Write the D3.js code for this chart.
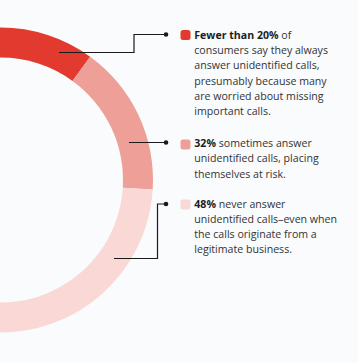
<!DOCTYPE html>
<html>
<head>
<meta charset="utf-8">
<script src="https://cdn.jsdelivr.net/npm/d3@7"></script>
<style>
html,body{margin:0;padding:0;background:#f9fbfd;}
svg{display:block;}
</style>
</head>
<body>
<svg id="chart" width="358" height="363"></svg>
<script>
// Arc shares as drawn in the picture (percent of the full ring)
const segments = ["always", "sometimes", "never"];
const arcShares = [20, 16, 64];
const colors = ["#e23a2e", "#ee9f98", "#f9d8d6"];

// Legend texts: bold lead + rest, then continuation lines
const boldLeads = ["Fewer than 20%", "32%", "48%"];
const firstRests = [" of", " sometimes answer", " never answer"];
const moreLines = [
  ["consumers say they always", "answer unidentified calls,", "presumably because many", "are worried about missing", "important calls."],
  ["unidentified calls, placing", "themselves at risk."],
  ["unidentified calls\u2013even when", "the calls originate from a", "legitimate business."]
];

const svg = d3.select("#chart");
const cx = 0.5, cy = 180, rOuter = 152.5, rInner = 122.5;
const startDeg = -36;

const pie = d3.pie().sort(null).value(d => d)
  .startAngle(startDeg * Math.PI / 180)
  .endAngle((startDeg + 360) * Math.PI / 180);
const arc = d3.arc().innerRadius(rInner).outerRadius(rOuter);

svg.append("g").attr("transform", `translate(${cx},${cy})`)
  .selectAll("path").data(pie(arcShares)).join("path")
  .attr("d", arc).attr("fill", (d, i) => colors[i]);

// connectors
const connectors = [
  [[59, 52.5], [134, 52.5], [134, 34.5], [166, 34.5]],
  [[129, 142.5], [166, 142.5]],
  [[114, 258.5], [157.5, 258.5], [157.5, 204], [166, 204]]
];
const line = d3.line();
svg.append("g").selectAll("path").data(connectors).join("path")
  .attr("d", line).attr("fill", "none").attr("stroke", "#1a1a1a").attr("stroke-width", 1.2);
svg.append("g").selectAll("circle").data(connectors).join("circle")
  .attr("cx", d => d[d.length - 1][0]).attr("cy", d => d[d.length - 1][1])
  .attr("r", 2.3).attr("fill", "#1a1a1a");

// legend
const squareTops = [30, 139.5, 199.5];
const baselines = [38.7, 147, 207.5];
const lh = 15.3;
const font = "'Open Sans', Lato, sans-serif";
const lg = svg.append("g");
segments.forEach((s, i) => {
  lg.append("rect").attr("x", 180.5).attr("y", squareTops[i]).attr("width", 10).attr("height", 10)
    .attr("rx", 2.5).attr("fill", colors[i]);
  const t = lg.append("text").attr("x", 194.3).attr("y", baselines[i])
    .attr("font-family", font).attr("font-size", 10.6).attr("fill", "#333");
  t.append("tspan").attr("font-weight", 700).attr("fill", "#1e1e1e").text(boldLeads[i]);
  t.append("tspan").text(firstRests[i]);
  moreLines[i].forEach((l, j) => {
    t.append("tspan").attr("x", 194.3).attr("y", baselines[i] + (j + 1) * lh).text(l);
  });
});
</script>
</body>
</html>
